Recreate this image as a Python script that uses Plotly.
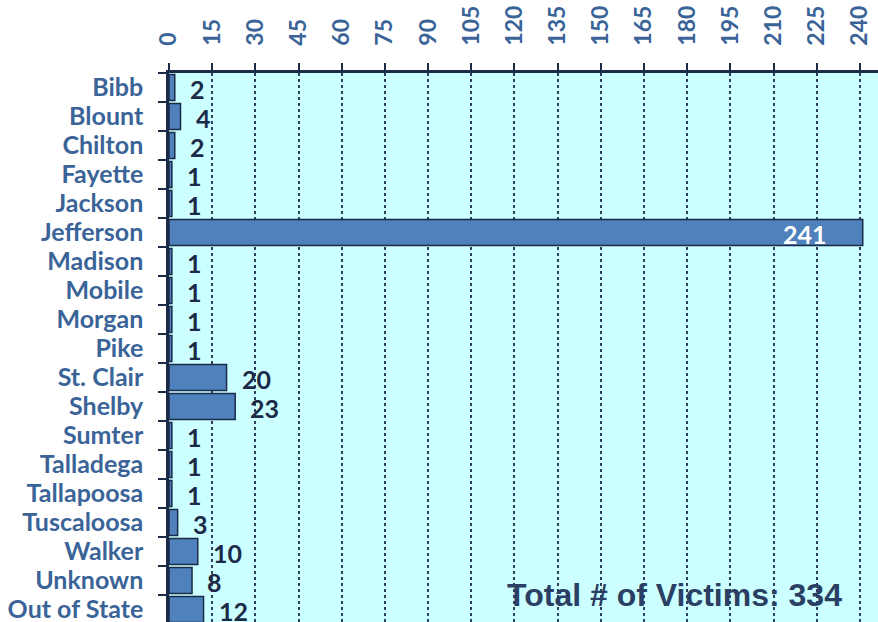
import plotly.graph_objects as go

categories = ["Bibb", "Blount", "Chilton", "Fayette", "Jackson", "Jefferson", "Madison",
              "Mobile", "Morgan", "Pike", "St. Clair", "Shelby", "Sumter", "Talladega",
              "Tallapoosa", "Tuscaloosa", "Walker", "Unknown", "Out of State"]
victims = [2, 4, 2, 1, 1, 241, 1, 1, 1, 1, 20, 23, 1, 1, 1, 3, 10, 8, 12]
tick_values = list(range(0, 241, 15))
total_label = "Total # of Victims: 334"

LABEL_BLUE = "#3A6498"
NAVY = "#1B2A47"

fig = go.Figure()
fig.add_trace(go.Bar(
    x=victims, y=categories, orientation="h",
    marker=dict(color="#4F81BD", line=dict(color=NAVY, width=1.5)),
    hoverinfo="x+y",
))

annotations = []
for cat, v in zip(categories, victims):
    if v > 200:
        annotations.append(dict(x=v, y=cat, xref="x", yref="y", text=str(v),
                                showarrow=False, xanchor="right", xshift=-34, yshift=-1,
                                font=dict(family="Lato", size=25, color="white", weight="bold")))
    else:
        annotations.append(dict(x=v, y=cat, xref="x", yref="y", text=str(v),
                                showarrow=False, xanchor="left", xshift=13, yshift=-1,
                                font=dict(family="Lato", size=25, color=NAVY, weight="bold")))
annotations.append(dict(x=0.713, y=0.049, xref="paper", yref="paper", text=total_label,
                        showarrow=False, xanchor="center", yanchor="middle",
                        font=dict(family="Liberation Sans", size=32, color="#2A3F63", weight="bold")))

fig.update_layout(
    width=878, height=622,
    margin=dict(l=169, r=0, t=73, b=0, autoexpand=False),
    paper_bgcolor="white",
    plot_bgcolor="#CCFFFF",
    bargap=0.1,
    showlegend=False,
    annotations=annotations,
    xaxis=dict(
        side="top", range=[0, 246.3], tickmode="array", tickvals=tick_values, tickangle=-90,
        ticks="outside", ticklen=7, tickwidth=2, tickcolor=NAVY,
        showline=True, linecolor=NAVY, linewidth=2.5,
        showgrid=True, gridcolor="#2E3F5E", gridwidth=1.5, griddash="dot",
        zeroline=False, automargin=False,
        tickfont=dict(family="Lato", size=23, color=LABEL_BLUE, weight="bold"),
        ticklabelstandoff=13,
    ),
    yaxis=dict(
        categoryorder="array", categoryarray=categories,
        range=[18.43, -0.5],
        tickmode="array", tickvals=categories, ticktext=categories,
        ticks="outside", ticklen=8, tickwidth=2, tickcolor=NAVY, tickson="boundaries",
        showline=True, linecolor=NAVY, linewidth=2.5,
        showgrid=False, zeroline=False, automargin=False,
        tickfont=dict(family="Lato", size=25, color=LABEL_BLUE, weight="bold"),
        ticklabelstandoff=18,
    ),
)

fig.write_html("out.html", config={"displayModeBar": False},
               post_script="document.body.style.margin='0';document.body.style.overflow='hidden';")
